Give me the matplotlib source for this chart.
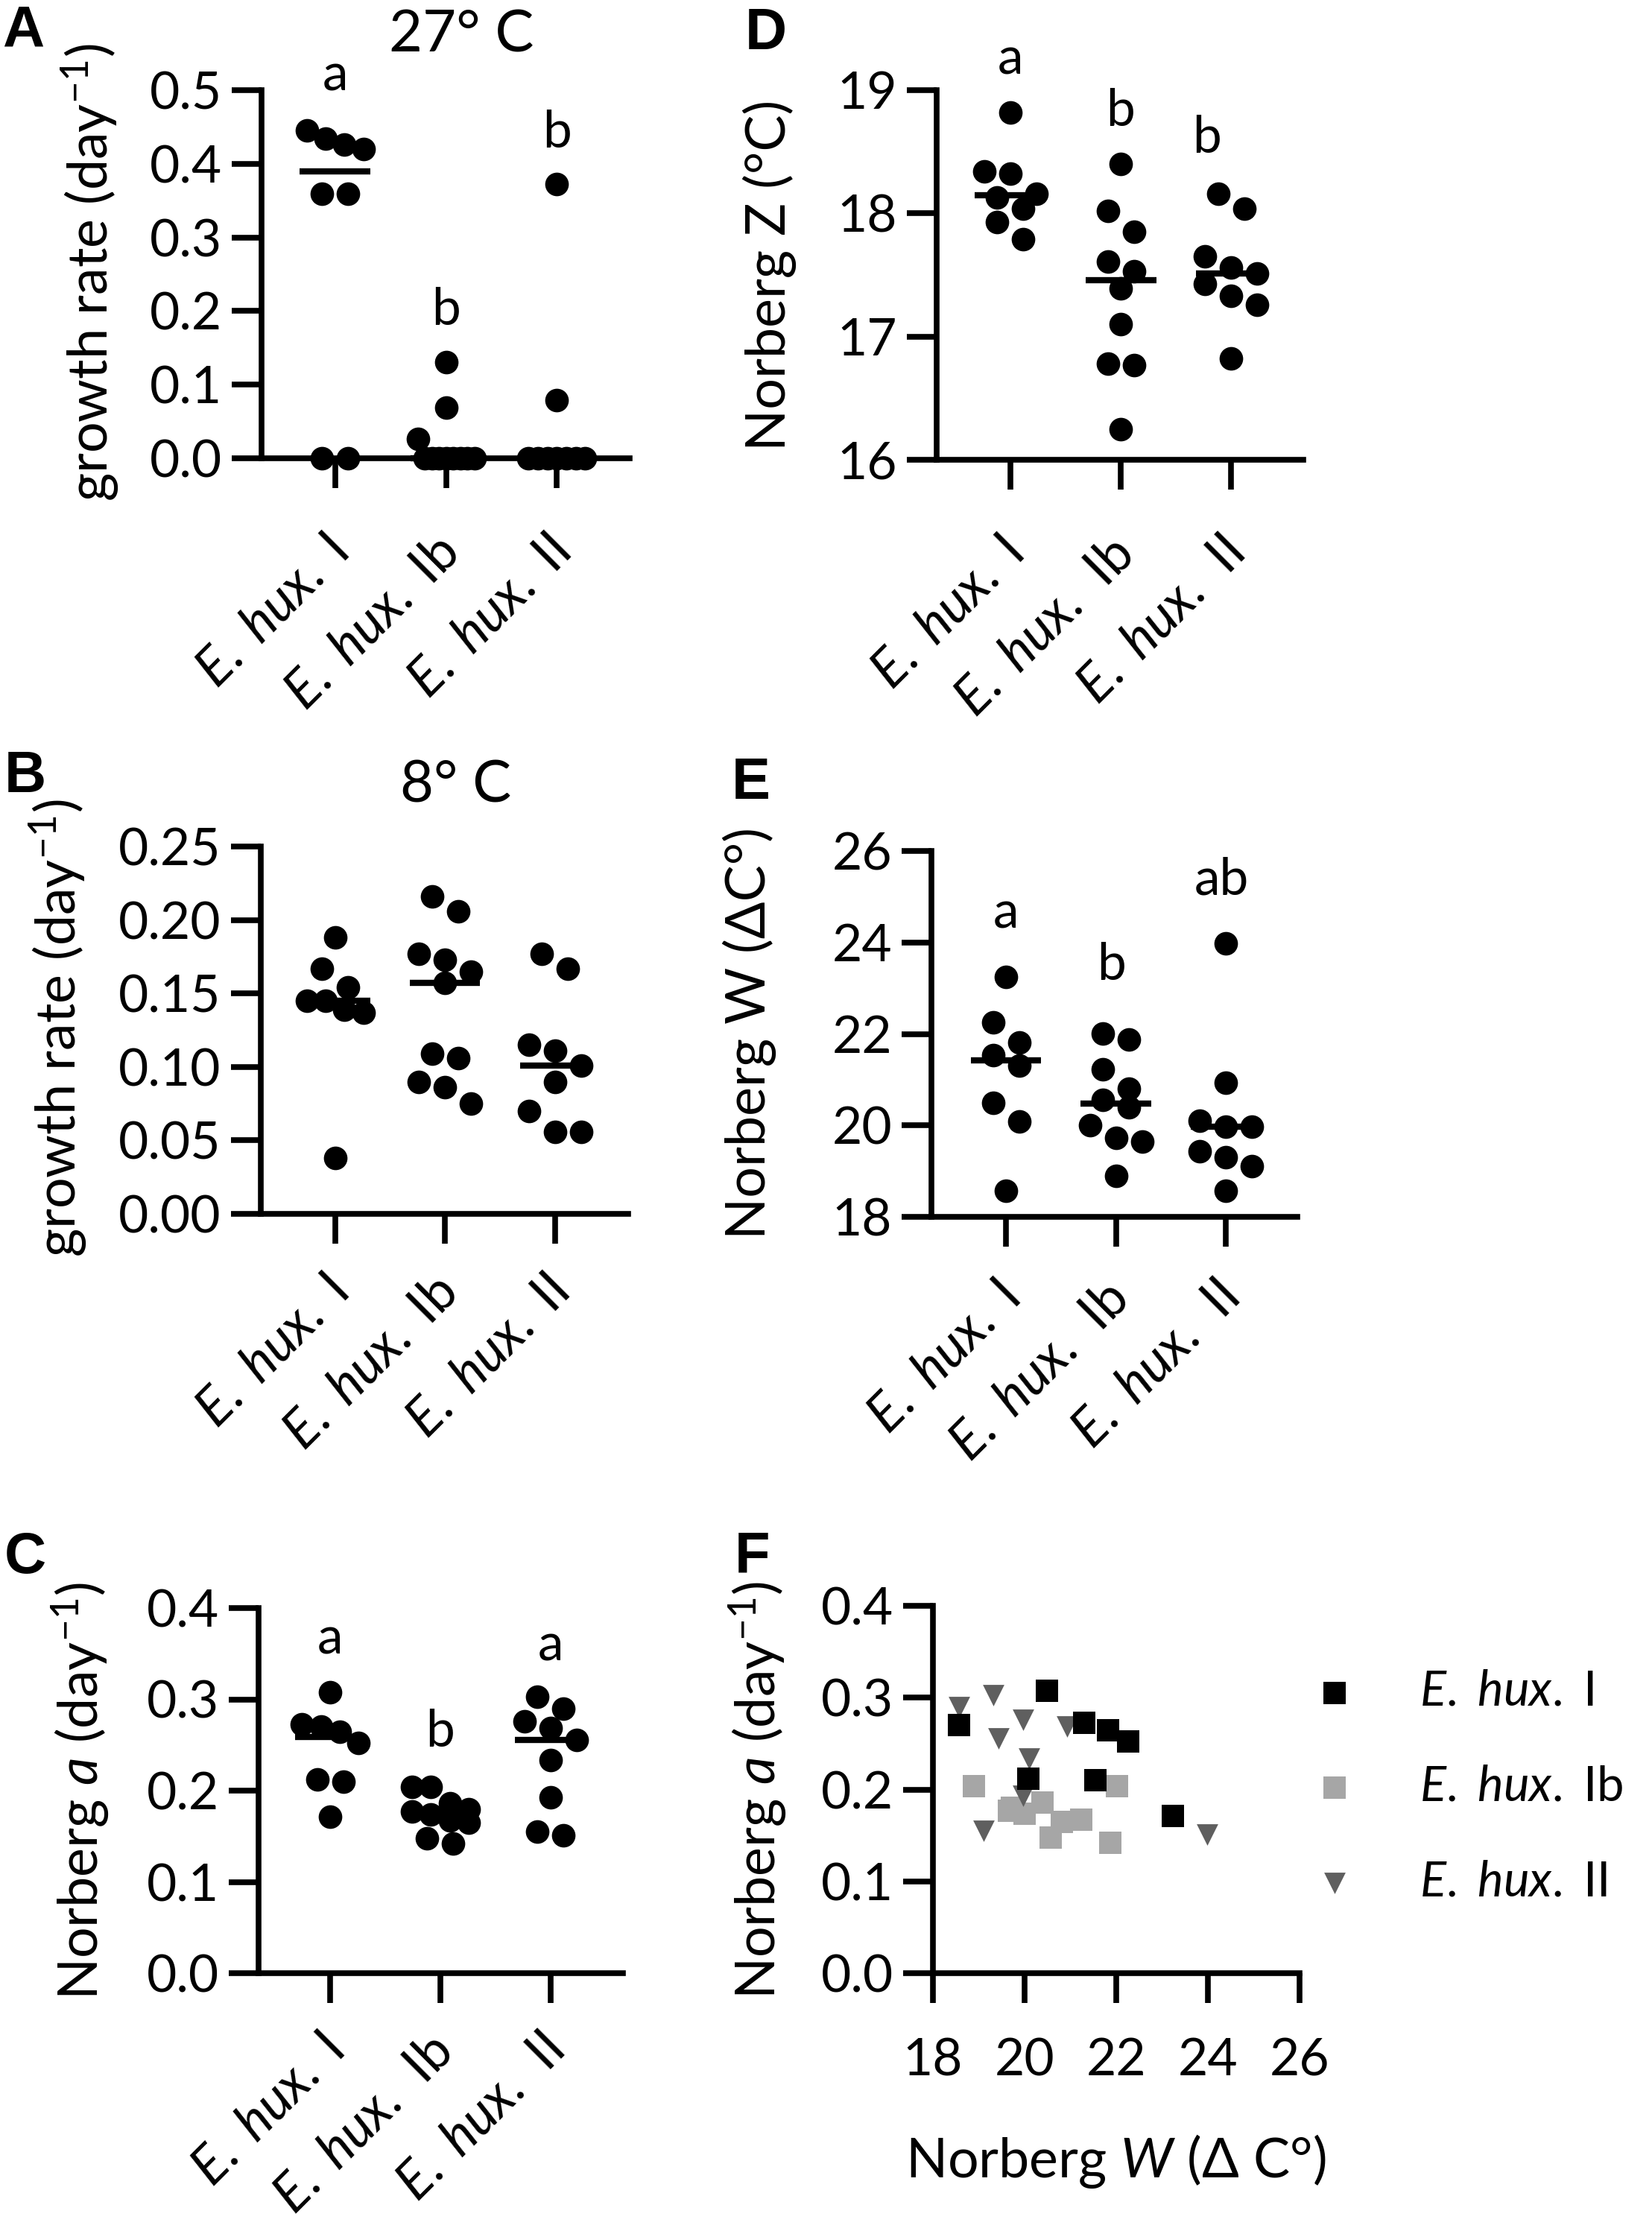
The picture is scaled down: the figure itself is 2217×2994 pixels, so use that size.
import numpy as np
import matplotlib
matplotlib.use("Agg")
import matplotlib.pyplot as plt
from matplotlib import transforms

plt.rcParams["font.family"] = ["Lato", "DejaVu Sans"]
plt.rcParams["mathtext.fontset"] = "custom"
plt.rcParams["mathtext.rm"] = "Lato"
plt.rcParams["mathtext.it"] = "Lato:italic"
plt.rcParams["mathtext.bf"] = "Lato:bold"

# --- data ---
growth27_I = [0.445, 0.434, 0.426, 0.420, 0.359, 0.359, 0.0, 0.0]
growth27_Ib = [0.131, 0.069, 0.026, 0.0, 0.0, 0.0, 0.0, 0.0, 0.0, 0.0, 0.0]
growth27_II = [0.372, 0.079, 0.0, 0.0, 0.0, 0.0, 0.0, 0.0, 0.0]

growth8_I = [0.188, 0.167, 0.154, 0.145, 0.145, 0.139, 0.137, 0.038]
growth8_Ib = [0.216, 0.206, 0.177, 0.173, 0.165, 0.157, 0.109, 0.106, 0.090, 0.086, 0.075]
growth8_II = [0.177, 0.167, 0.115, 0.111, 0.101, 0.090, 0.070, 0.056, 0.056]

norberg_z_I = [18.82, 18.34, 18.32, 18.16, 18.13, 18.04, 17.93, 17.79]
norberg_z_Ib = [18.40, 18.02, 17.85, 17.61, 17.53, 17.39, 17.10, 16.78, 16.77, 16.25]
norberg_z_II = [18.16, 18.04, 17.65, 17.56, 17.51, 17.43, 17.33, 17.26, 16.82]

# Norberg W and a, paired per strain
norberg_w_I = [18.57, 20.49, 21.30, 21.82, 22.26, 20.08, 21.54, 23.24]
norberg_a_I = [0.270, 0.3075, 0.2724, 0.2648, 0.2526, 0.212, 0.210, 0.1715]
norberg_w_Ib = [18.90, 22.01, 19.65, 19.72, 20.00, 20.39, 20.81, 21.23, 20.56, 21.87]
norberg_a_Ib = [0.204, 0.204, 0.177, 0.180, 0.174, 0.186, 0.165, 0.167, 0.148, 0.142]
norberg_w_II = [18.57, 19.31, 19.97, 20.93, 19.43, 20.10, 19.97, 19.11, 23.98]
norberg_a_II = [0.290, 0.3026, 0.2756, 0.2688, 0.2553, 0.2337, 0.193, 0.155, 0.151]

letters_A = ["a", "b", "b"]
letters_C = ["a", "b", "a"]
letters_D = ["a", "b", "b"]
letters_E = ["a", "b", "ab"]

labels_1sp = [r"$\mathit{E.\ hux.}$ I", r"$\mathit{E.\ hux.}$ Ib", r"$\mathit{E.\ hux.}$ II"]
labels_2sp = [r"$\mathit{E.\ hux.}$ I", r"$\mathit{E.\ hux.}\,$ Ib", r"$\mathit{E.\ hux.}\,$ II"]
legend_labels = labels_1sp

# --- figure geometry (pixels) ---
W, H = 2217, 2994
DPI = 100
fig = plt.figure(figsize=(W / DPI, H / DPI), dpi=DPI)

LW = 5.5
TICK_LEN = 29
TICK_FS = 50
LABEL_FS = 53
XLAB_FS = 51


def px_axes(left, right, top, bottom):
    return fig.add_axes([left / W, 1 - bottom / H, (right - left) / W, (bottom - top) / H])


def swarm(values, px_per_unit, px_per_group, diam=31, step=35, half_max=38):
    vals = np.asarray(values, float)
    order = np.argsort(-vals, kind="stable")
    offsets = np.zeros(len(vals))
    bins, cur = [], [order[0]]
    for idx in order[1:]:
        if (vals[cur[0]] - vals[idx]) * px_per_unit < diam:
            cur.append(idx)
        else:
            bins.append(cur)
            cur = [idx]
    bins.append(cur)
    for b in bins:
        n = len(b)
        if n == 1:
            continue
        st = min(step, 2 * half_max / (n - 1))
        for k, idx in enumerate(b):
            offsets[idx] = (k - (n - 1) / 2) * st
    return offsets / px_per_group


def style_axes(ax):
    for s in ["top", "right"]:
        ax.spines[s].set_visible(False)
    for s in ["left", "bottom"]:
        ax.spines[s].set_linewidth(LW)
        ax.spines[s].set_capstyle("projecting")
    ax.tick_params(axis="both", length=TICK_LEN, width=LW, direction="out",
                   labelsize=TICK_FS, color="black")
    ax.tick_params(axis="y", pad=9)


def column_panel(box, ticks_px, data, ylim, yticks, fmt, letters, letter_pos,
                 xlabels, label_drop, ylabel, ylabel_xy):
    left, right, top, bottom = box
    ax = px_axes(left, right, top, bottom)
    t0, t2 = ticks_px
    sp = (t2 - t0) / 2
    ax.set_xlim((left - t0) / sp, (right - t0) / sp)
    ax.set_ylim(*ylim)
    style_axes(ax)
    ppu = (bottom - top) / (ylim[1] - ylim[0])
    for i, vals in enumerate(data):
        off = swarm(vals, ppu, sp)
        ax.scatter(i + off, vals, s=520, color="black", linewidths=0, zorder=3, clip_on=False)
        m = np.median(vals)
        ax.plot([i - 0.32, i + 0.32], [m, m], color="black", lw=6, solid_capstyle="butt",
                zorder=4, clip_on=False)
    ax.set_yticks(yticks)
    ax.set_yticklabels([fmt % v for v in yticks])
    ax.set_xticks(range(len(data)))
    ax.tick_params(axis="x", labelbottom=False)
    base = transforms.blended_transform_factory(ax.transData, ax.transAxes)
    shift = transforms.ScaledTranslation(6 / DPI, -label_drop / DPI, fig.dpi_scale_trans)
    for i, lab in enumerate(xlabels):
        ax.text(i, 0, lab, transform=base + shift, rotation=45, rotation_mode="anchor",
                ha="right", va="center", fontsize=XLAB_FS)
    if letters:
        for (lx, ly), t in zip(letter_pos, letters):
            ax.text(lx, ly, t, ha="center", va="baseline", fontsize=TICK_FS, clip_on=False)
    fig.text(ylabel_xy[0] / W, 1 - ylabel_xy[1] / H, ylabel, rotation=90,
             ha="center", va="center", fontsize=LABEL_FS)
    return ax


# A
column_panel((351, 845, 121, 615), (449.6, 747.4),
             [growth27_I, growth27_Ib, growth27_II], (0, 0.5), np.arange(0, 0.51, 0.1), "%.1f",
             letters_A, [(0, 0.500), (1, 0.181), (2, 0.422)],
             labels_1sp, 116, r"growth rate (day$^{\mathregular{-1}}$)", (121, 366))
# B
column_panel((349.5, 843, 1136, 1629), (449.6, 744.9),
             [growth8_I, growth8_Ib, growth8_II], (0, 0.25), np.arange(0, 0.251, 0.05), "%.2f",
             None, None,
             labels_1sp, 95, r"growth rate (day$^{\mathregular{-1}}$)", (78, 1380))
# C
column_panel((347, 835.5, 2158, 2648), (443.2, 738.5),
             [norberg_a_I, norberg_a_Ib, norberg_a_II], (0, 0.4), np.arange(0, 0.41, 0.1), "%.1f",
             letters_C, [(0, 0.350), (1, 0.248), (2, 0.3425)],
             labels_2sp, 94, r"Norberg $\mathit{a}$ (day$^{\mathregular{-1}}$)", (108, 2403))
# D
column_panel((1257, 1749, 121, 617), (1355.7, 1652.4),
             [norberg_z_I, norberg_z_Ib, norberg_z_II], (16, 19), [16, 17, 18, 19], "%d",
             letters_D, [(0, 19.13), (1, 18.71), (1.78, 18.49)],
             labels_2sp, 116, "Norberg Z (°C)", (1033, 369))
# E
column_panel((1250, 1741, 1142, 1633), (1350, 1645),
             [norberg_w_I, norberg_w_Ib, norberg_w_II], (18, 26), [18, 20, 22, 24, 26], "%d",
             letters_E, [(0, 24.31), (0.96, 23.18), (1.96, 25.05)],
             labels_2sp, 99, "Norberg W (ΔC°)", (1006, 1387))

# F scatter
axf = px_axes(1252, 1744.3, 2155, 2648)
axf.set_xlim(18, 26)
axf.set_ylim(0, 0.4)
style_axes(axf)
h_ib = axf.scatter(norberg_w_Ib, norberg_a_Ib, marker="s", s=480, color="#a6a6a6",
                   linewidths=0, zorder=3, clip_on=False)
h_ii = axf.scatter(norberg_w_II, norberg_a_II, marker="v", s=430, color="#5f5f5f",
                   linewidths=0, zorder=4, clip_on=False)
h_i = axf.scatter(norberg_w_I, norberg_a_I, marker="s", s=480, color="black",
                  linewidths=0, zorder=5, clip_on=False)
axf.set_xticks([18, 20, 22, 24, 26])
axf.set_yticks(np.arange(0, 0.41, 0.1))
axf.set_yticklabels(["%.1f" % v for v in np.arange(0, 0.41, 0.1)])
axf.tick_params(axis="x", pad=33)
fig.text(1017 / W, 1 - 2402 / H, r"Norberg $\mathit{a}$ (day$^{\mathregular{-1}}$)", rotation=90,
         ha="center", va="center", fontsize=LABEL_FS)
fig.text(1497 / W, 1 - 2922 / H, r"Norberg $\mathit{W}$ (Δ C°)", ha="center", va="baseline",
         fontsize=LABEL_FS)
fig.legend([h_i, h_ib, h_ii], legend_labels, loc="center left",
           bbox_to_anchor=(1742 / W, 1 - 2398 / H), frameon=False, fontsize=47,
           handlelength=1.5, handletextpad=1.0, labelspacing=1.05, borderpad=0,
           borderaxespad=0, scatterpoints=1)

# titles and panel letters
fig.text(619 / W, 1 - 70 / H, "27° C", ha="center", va="baseline", fontsize=56)
fig.text(612 / W, 1 - 1076 / H, "8° C", ha="center", va="baseline", fontsize=56)
for lett, (x, y) in zip("ABCDEF", [(3, 6), (6, 1006), (6, 2054), (1000, 9), (982, 1015), (986, 2054)]):
    fig.text(x / W, 1 - y / H, lett, ha="left", va="top", fontsize=56,
             fontweight="bold", family=["Liberation Sans", "DejaVu Sans"])

fig.savefig("out.png", dpi=DPI)
